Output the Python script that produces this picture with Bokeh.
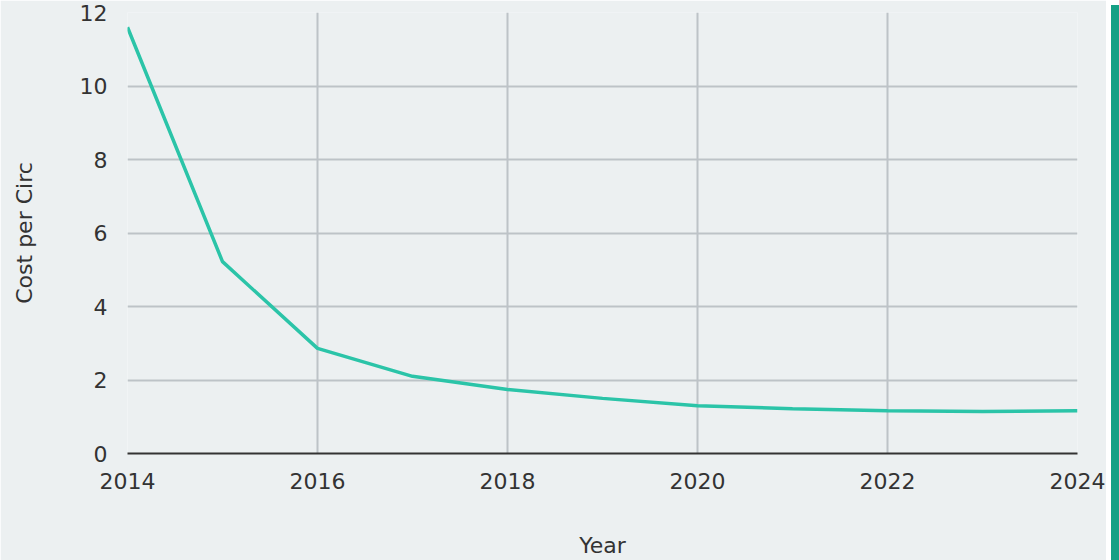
from bokeh.plotting import figure
from bokeh.models import Range1d, FixedTicker, Div
from bokeh.layouts import row
from bokeh.embed import file_html
from bokeh.resources import INLINE

years = [2014, 2015, 2016, 2017, 2018, 2019, 2020, 2021, 2022, 2023, 2024]
cost_per_circ = [11.6, 5.22, 2.86, 2.1, 1.74, 1.5, 1.3, 1.22, 1.16, 1.14, 1.16]
x_ticks = [2014, 2016, 2018, 2020, 2022, 2024]
y_ticks = [0, 2, 4, 6, 8, 10, 12]

BG = "#ecf0f1"
FONT = "DejaVu Sans"
FS = "22px"

p = figure(width=1106, height=560, output_backend="svg", toolbar_location=None,
           x_range=Range1d(2014, 2024), y_range=Range1d(0, 12),
           min_border_left=127, min_border_right=29, min_border_top=12, min_border_bottom=107)
p.background_fill_color = BG
p.border_fill_color = BG
p.outline_line_color = None

p.line(years, cost_per_circ, line_color="#2bc4a8", line_width=3.5)

p.xaxis.ticker = FixedTicker(ticks=x_ticks)
p.yaxis.ticker = FixedTicker(ticks=y_ticks)
for ax in (p.xaxis, p.yaxis):
    ax.major_tick_line_color = None
    ax.minor_tick_line_color = None
    ax.major_label_text_font = FONT
    ax.major_label_text_font_size = FS
    ax.major_label_text_color = "#333333"
    ax.axis_label_text_font = FONT
    ax.axis_label_text_font_size = FS
    ax.axis_label_text_font_style = "normal"
    ax.axis_label_text_color = "#333333"
p.xaxis.axis_line_color = "#333333"
p.xaxis.axis_line_width = 2
p.yaxis.axis_line_color = None
p.xaxis.major_label_standoff = 13
p.yaxis.major_label_standoff = 14
p.xaxis.axis_label = "Year"
p.yaxis.axis_label = "Cost per Circ"
p.xaxis.axis_label_standoff = 41
p.yaxis.axis_label_standoff = 40

p.xgrid.grid_line_color = "#bdc3c7"
p.ygrid.grid_line_color = "#bdc3c7"
p.xgrid.grid_line_width = 2
p.ygrid.grid_line_width = 2

bar = Div(text="", width=10, height=560, styles={"background-color": "#16a085"})
layout = row(p, bar, spacing=0)

html = file_html(layout, INLINE)
html = html.replace("<body>", '<body style="background:%s">' % BG, 1)
open("out.html", "w").write(html)
